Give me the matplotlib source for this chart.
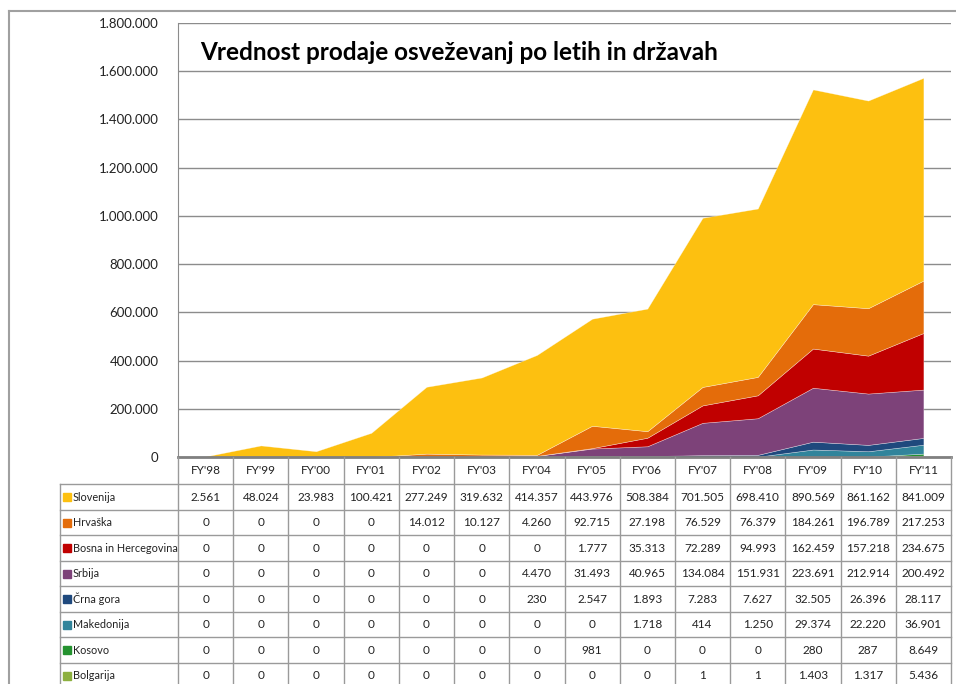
import matplotlib
matplotlib.use("Agg")
from matplotlib import pyplot as plt
from matplotlib.lines import Line2D
from matplotlib.patches import Rectangle
from matplotlib.ticker import FuncFormatter

plt.rcParams['font.family'] = ['Lato', 'DejaVu Sans']

years = ["FY'98", "FY'99", "FY'00", "FY'01", "FY'02", "FY'03", "FY'04",
         "FY'05", "FY'06", "FY'07", "FY'08", "FY'09", "FY'10", "FY'11"]

slovenija = [2561, 48024, 23983, 100421, 277249, 319632, 414357, 443976, 508384, 701505, 698410, 890569, 861162, 841009]
hrvaska = [0, 0, 0, 0, 14012, 10127, 4260, 92715, 27198, 76529, 76379, 184261, 196789, 217253]
bosna = [0, 0, 0, 0, 0, 0, 0, 1777, 35313, 72289, 94993, 162459, 157218, 234675]
srbija = [0, 0, 0, 0, 0, 0, 4470, 31493, 40965, 134084, 151931, 223691, 212914, 200492]
crna_gora = [0, 0, 0, 0, 0, 0, 230, 2547, 1893, 7283, 7627, 32505, 26396, 28117]
makedonija = [0, 0, 0, 0, 0, 0, 0, 0, 1718, 414, 1250, 29374, 22220, 36901]
kosovo = [0, 0, 0, 0, 0, 0, 0, 981, 0, 0, 0, 280, 287, 8649]
bolgarija = [0, 0, 0, 0, 0, 0, 0, 0, 0, 1, 1, 1403, 1317, 5436]

names = ["Slovenija", "Hrvaška", "Bosna in Hercegovina", "Srbija",
         "Črna gora", "Makedonija", "Kosovo", "Bolgarija"]
series = [slovenija, hrvaska, bosna, srbija, crna_gora, makedonija, kosovo, bolgarija]
colors = ["#FDC010", "#E46C0A", "#C00000", "#7D4279",
          "#1F497D", "#31849B", "#24922F", "#8DB03F"]

W, H = 956, 684
fig = plt.figure(figsize=(W / 100, H / 100), dpi=100)

def fmt(v):
    return f"{int(v):,}".replace(",", ".")

# chart area
ax = fig.add_axes([178 / W, 1 - 457 / H, 773 / W, 434 / H])
x = range(len(years))
ax.stackplot(x, *series[::-1], colors=colors[::-1], linewidth=0.4, edgecolor="#ffffff80")
ax.set_xlim(-0.5, len(years) - 0.5)
ax.set_ylim(0, 1800000)
ax.set_yticks(range(0, 1800001, 200000))
ax.yaxis.set_major_formatter(FuncFormatter(lambda v, p: fmt(v)))
ax.tick_params(axis="y", length=0, pad=14, labelsize=9.5, labelcolor="#222222")
ax.set_xticks([])
ax.grid(axis="y", color="#8c8c8c", linewidth=1)
ax.set_axisbelow(True)
for s in ["top", "right"]:
    ax.spines[s].set_visible(False)
ax.spines["left"].set_color("#8c8c8c")
ax.spines["bottom"].set_color("#808080")
ax.spines["bottom"].set_linewidth(2)

fig.text(200 / W, 1 - 52 / H, "Vrednost prodaje osveževanj po letih in državah",
         fontsize=17.5, fontweight="bold", va="center", ha="left", color="#000000")

# data table
tax = fig.add_axes([178 / W, 0, 773 / W, (H - 457) / H])
tax.set_xlim(-0.5, len(years) - 0.5)
tax.set_ylim(H, 457)
tax.axis("off")
px = 773 / len(years)
xl = -0.5 - (178 - 60) / px
xr = len(years) - 0.5
head_bot = 484.5
rh = 25.5
lc = "#9a9a9a"

for i in range(len(years) + 1):
    tax.plot([i - 0.5, i - 0.5], [457, H + 10], color=lc, lw=1, clip_on=False)
tax.plot([xl, xl], [head_bot, H + 10], color=lc, lw=1, clip_on=False)
for r in range(len(names) + 1):
    yy = head_bot + r * rh
    tax.plot([xl, xr], [yy, yy], color=lc, lw=1, clip_on=False)

for i, yr in enumerate(years):
    tax.text(i, (457 + head_bot) / 2, yr, ha="center", va="center", fontsize=8.5, color="#222222")

for r, (name, vals, c) in enumerate(zip(names, series, colors)):
    yc = head_bot + r * rh + rh / 2
    tax.add_patch(Rectangle((-0.5 + (63 - 178) / px, yc - 4), 8 / px, 8, color=c, clip_on=False))
    tax.text(-0.5 + (73 - 178) / px, yc, name, ha="left", va="center", fontsize=7.8,
             color="#222222", clip_on=False)
    for i, v in enumerate(vals):
        tax.text(i, yc, fmt(v), ha="center", va="center", fontsize=8.5, color="#222222")

# outer frame
fig.add_artist(Line2D([9 / W, 1], [1 - 11 / H, 1 - 11 / H], color="#a0a0a0", lw=1.5))
fig.add_artist(Line2D([9 / W, 9 / W], [1 - 11 / H, 0], color="#a0a0a0", lw=1.5))

fig.savefig("out.png", dpi=100)
